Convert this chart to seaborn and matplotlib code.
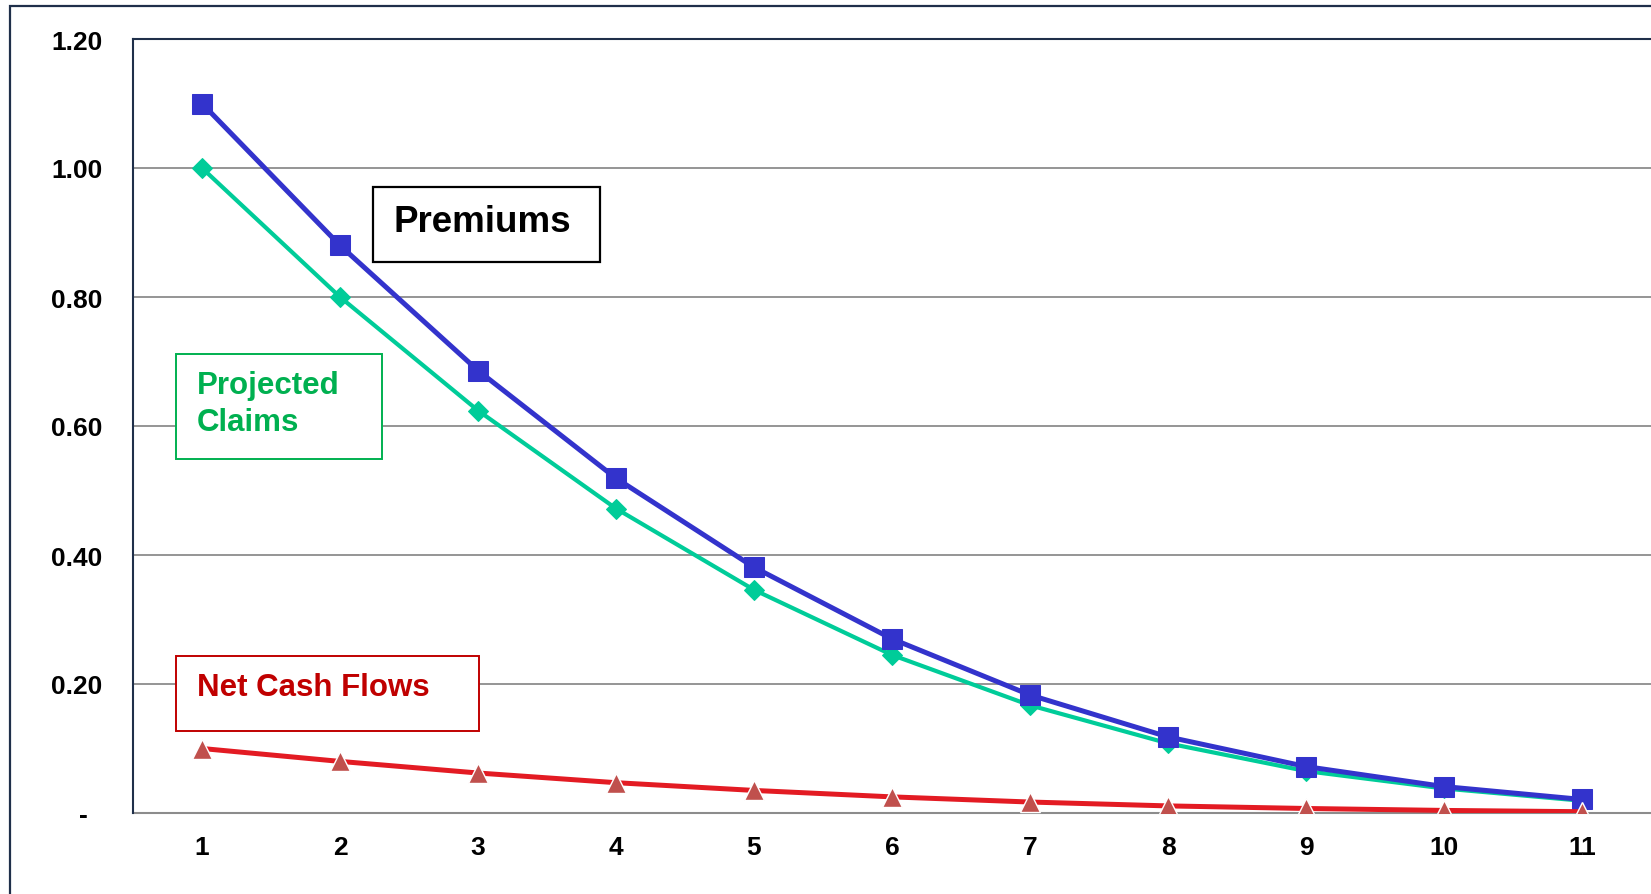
import matplotlib
matplotlib.use("Agg")
import matplotlib.pyplot as plt
from matplotlib.patches import Rectangle
import seaborn as sns
import pandas as pd

# Projected cash flows by year
years = [1, 2, 3, 4, 5, 6, 7, 8, 9, 10, 11]
premiums = [1.100, 0.880, 0.686, 0.519, 0.381, 0.270, 0.183, 0.118, 0.072, 0.041, 0.021]
claims = [1.000, 0.800, 0.624, 0.472, 0.346, 0.245, 0.167, 0.108, 0.065, 0.038, 0.019]
net_cash = [0.100, 0.080, 0.062, 0.047, 0.035, 0.025, 0.017, 0.011, 0.007, 0.004, 0.002]

y_ticks = [0.0, 0.2, 0.4, 0.6, 0.8, 1.0, 1.2]
y_tick_labels = ["-  ", "0.20", "0.40", "0.60", "0.80", "1.00", "1.20"]

df = pd.DataFrame({"year": years, "premiums": premiums,
                   "claims": claims, "net": net_cash})

sns.set_theme(style="white")
plt.rcParams["font.family"] = ["Liberation Sans", "DejaVu Sans"]
plt.rcParams["font.weight"] = "bold"

W, H = 1651, 895
fig = plt.figure(figsize=(W / 100, H / 100), dpi=100)
fig.patch.set_facecolor("white")

def fx(px):
    return px / W

def fy(py):
    return 1 - py / H

ax = fig.add_axes([fx(133), fy(814), 1 - fx(133), fy(40) - fy(814)])

# grid lines
for v in y_ticks[1:-1]:
    ax.axhline(v, color="#8c8c8c", lw=1.3, zorder=1)

sns.lineplot(data=df, x="year", y="claims", ax=ax, color="#00cc99", lw=3.0,
             marker="D", markersize=10, markeredgecolor="#00cc99", zorder=3)
sns.lineplot(data=df, x="year", y="premiums", ax=ax, color="#3333cc", lw=3.6,
             marker="s", markersize=14, markeredgecolor="#3333cc", zorder=4)
sns.lineplot(data=df, x="year", y="net", ax=ax, color="#e31b23", lw=3.6,
             marker="^", markersize=14, markerfacecolor="#c0504d",
             markeredgecolor="white", markeredgewidth=1.0, zorder=5)

ax.set_xlim(0.5, 11.5)
ax.set_ylim(0, 1.2)
ax.set_xticks(years)
ax.set_xticklabels([str(y) for y in years])
ax.set_yticks(y_ticks)
ax.set_yticklabels(y_tick_labels)
ax.tick_params(axis="both", length=0, labelsize=19, colors="black")
ax.tick_params(axis="y", pad=22)
ax.tick_params(axis="x", pad=15.5)
for lab in ax.get_xticklabels() + ax.get_yticklabels():
    lab.set_fontweight("bold")
ax.set_xlabel("")
ax.set_ylabel("")

ax.spines["right"].set_visible(False)
ax.spines["left"].set_color("#1f2f4a")
ax.spines["top"].set_color("#1f2f4a")
ax.spines["bottom"].set_color("#8c8c8c")
for s in ["left", "top", "bottom"]:
    ax.spines[s].set_linewidth(1.5)
ax.spines["bottom"].set_zorder(2)

# outer chart frame
fig.add_artist(Rectangle((fx(10), fy(960)), 1.2, fy(7) - fy(960),
                         transform=fig.transFigure, fill=False,
                         edgecolor="#1f2f4a", lw=1.6, zorder=0))

# series label boxes
def label_box(x0, y0, x1, y1, edge, lw=1.4):
    fig.add_artist(Rectangle((fx(x0), fy(y1)), fx(x1) - fx(x0), fy(y0) - fy(y1),
                             transform=fig.transFigure, facecolor="white",
                             edgecolor=edge, lw=lw, zorder=6))

label_box(373, 188, 600, 263, "black", 1.6)
fig.text(fx(393), fy(223), "Premiums", fontsize=26.5, fontweight="bold",
         color="black", ha="left", va="center", zorder=7)

label_box(176, 355, 382, 460, "#00b050")
fig.text(fx(197), fy(386), "Projected", fontsize=22.5, fontweight="bold",
         color="#00b050", ha="left", va="center", zorder=7)
fig.text(fx(197), fy(423), "Claims", fontsize=22.5, fontweight="bold",
         color="#00b050", ha="left", va="center", zorder=7)

label_box(176, 657, 479, 732, "#c00000")
fig.text(fx(197), fy(688), "Net Cash Flows", fontsize=22.5, fontweight="bold",
         color="#c00000", ha="left", va="center", zorder=7)

fig.savefig("out.png", dpi=100)
